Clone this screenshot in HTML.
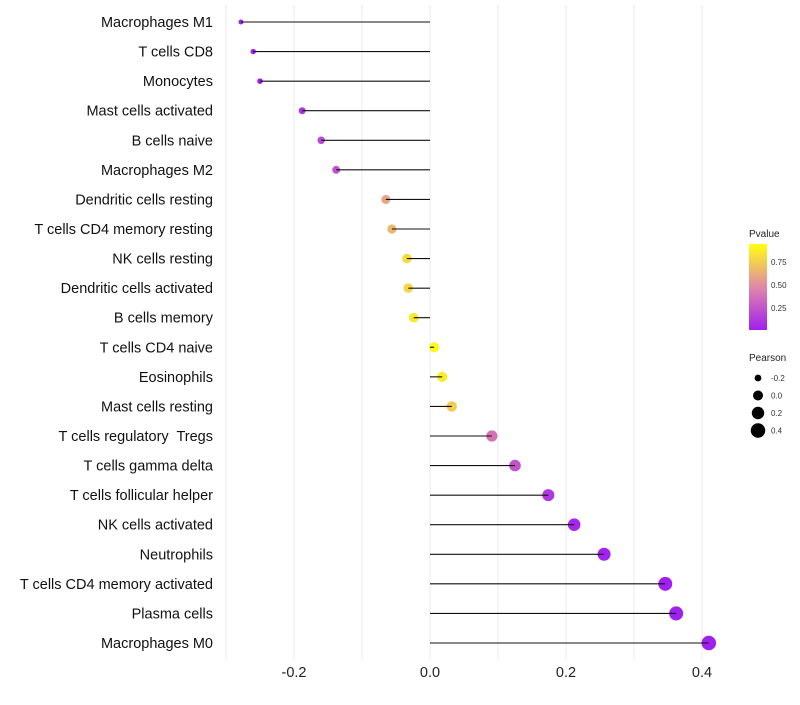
<!DOCTYPE html>
<html><head><meta charset="utf-8"><style>
body{margin:0;background:#fff;font-family:"Liberation Sans",sans-serif}
text{white-space:pre}
</style></head><body>
<svg id="chart" width="800" height="700" xmlns="http://www.w3.org/2000/svg" font-family="Liberation Sans, sans-serif">
<defs><linearGradient id="pg" x1="0" y1="1" x2="0" y2="0">
<stop offset="0" stop-color="#A020F0"/><stop offset="0.5" stop-color="#E088A8"/><stop offset="1" stop-color="#FFFF10"/></linearGradient></defs>
<g id="grid"></g><g id="points"></g><g id="stems"></g><g id="labels"></g><g id="ticks"></g>
<g>
<text x="749" y="237" font-size="10" fill="#222">Pvalue</text>
<rect x="749" y="244" width="18" height="86" fill="url(#pg)"/>
<g font-size="8" fill="#333"><text x="771" y="265">0.75</text><text x="771" y="288">0.50</text><text x="771" y="311">0.25</text></g>
</g>
<g>
<text x="749" y="361" font-size="10" fill="#222">Pearson</text>
<g id="sizeleg"></g>
</g>
</svg>
<script>
const categories=["Macrophages M1","T cells CD8","Monocytes","Mast cells activated","B cells naive","Macrophages M2","Dendritic cells resting","T cells CD4 memory resting","NK cells resting","Dendritic cells activated","B cells memory","T cells CD4 naive","Eosinophils","Mast cells resting","T cells regulatory  Tregs","T cells gamma delta","T cells follicular helper","NK cells activated","Neutrophils","T cells CD4 memory activated","Plasma cells","Macrophages M0"];
const pearson=[-0.278,-0.26,-0.25,-0.188,-0.16,-0.138,-0.065,-0.056,-0.034,-0.032,-0.024,0.006,0.018,0.032,0.091,0.125,0.174,0.212,0.256,0.346,0.362,0.41];
const pvalue=[0.001,0.003,0.005,0.1,0.2,0.25,0.62,0.7,0.85,0.83,0.9,0.98,0.92,0.78,0.4,0.25,0.12,0.04,0.015,0.002,0.001,0.0001];
const xTicks=[-0.2,0.0,0.2,0.4];
const xTickLabels=["-0.2","0.0","0.2","0.4"];
const gridVals=[-0.3,-0.2,-0.1,0,0.1,0.2,0.3,0.4];
const sizeLegVals=[-0.2,0.0,0.2,0.4];
const NS="http://www.w3.org/2000/svg";
const x=v=>430+v*680;
const y=i=>22+i*(621/21);
const r=v=>Math.sqrt(Math.max(3,25+68*v));
function lerp(a,b,t){return a.map((c,i)=>Math.round(c+(b[i]-c)*t));}
function col(p){const s0=[160,32,240],s1=[224,136,168],s2=[255,255,16];
 const c=p<0.5?lerp(s0,s1,p/0.5):lerp(s1,s2,(p-0.5)/0.5);return `rgb(${c.join(',')})`;}
function mk(t,a,parent){const e=document.createElementNS(NS,t);for(const k in a)e.setAttribute(k,a[k]);document.getElementById(parent).appendChild(e);return e;}
gridVals.forEach(v=>{const e=mk('line',{x1:x(v),x2:x(v),y1:5,y2:660,stroke:'#ebebeb','stroke-width':1},'grid');

});
categories.forEach((c,i)=>{
 const p=mk('circle',{cx:x(pearson[i]),cy:y(i),r:r(pearson[i]),fill:col(pvalue[i])},'points');
 
 
 const l=mk('line',{x1:x(0),x2:x(pearson[i]),y1:y(i),y2:y(i),stroke:'#111','stroke-width':1.1},'stems');
 
 
 const t=mk('text',{x:213,y:y(i)+5,'text-anchor':'end','font-size':14.5,fill:'#111'},'labels');
 t.textContent=c;
 
 
});
xTicks.forEach((v,i)=>{const t=mk('text',{x:x(v),y:677,'text-anchor':'middle','font-size':14.5,fill:'#222'},'ticks');
t.textContent=xTickLabels[i];

});
sizeLegVals.forEach((v,i)=>{const cy=378+i*17.5;
 const c=mk('circle',{cx:758,cy:cy,r:r(v),fill:'#000'},'sizeleg');
 
 
 const t=mk('text',{x:771,y:cy+3,'font-size':8,fill:'#333'},'sizeleg');
 t.textContent=v.toFixed(1);
 
 });
</script>
</body></html>
